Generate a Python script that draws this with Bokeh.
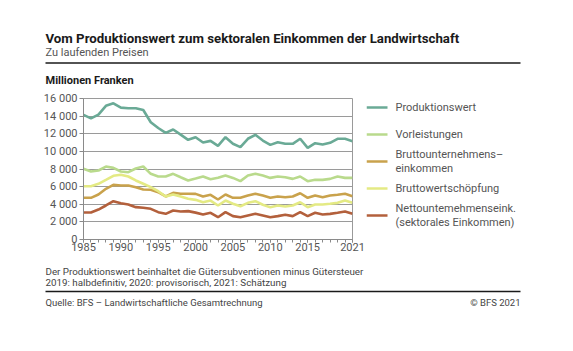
from bokeh.plotting import figure
from bokeh.models import Range1d, FixedTicker, Label
from bokeh.layouts import column, row
from bokeh.embed import file_html
from bokeh.resources import INLINE

years = list(range(1985, 2022))
produktionswert = [14150, 13750, 14170, 15170, 15450, 14960, 14900, 14900, 14700, 13310, 12650, 12100, 12480, 11900, 11310,
                   11610, 11000, 11190, 10620, 11610, 10860, 10480, 11430, 11880, 11230, 10740, 11040, 10860, 10860, 11430,
                   10400, 10930, 10780, 10970, 11430, 11430, 11160]
vorleistungen = [8020, 7720, 7830, 8280, 8130, 7720, 7640, 8060, 8280, 7450, 7150, 7150, 7450, 7070, 6700,
                 6920, 7150, 6840, 7000, 7260, 6990, 6620, 7260, 7450, 7260, 6990, 7150, 7070, 6880, 7150,
                 6620, 6770, 6770, 6880, 7150, 6990, 6990]
bruttounternehmenseinkommen = [4730, 4730, 5110, 5750, 6200, 6130, 6130, 5940, 5670, 5640, 5370, 4880, 5300, 5190, 5190,
                               5180, 4880, 5070, 4540, 5110, 4730, 4730, 4990, 5190, 4990, 4730, 4880, 4800, 4880, 5250,
                               4730, 4990, 4800, 4990, 5070, 5190, 4920]
bruttowertschoepfung = [6050, 6050, 6320, 6770, 7230, 7340, 7150, 6700, 6320, 5940, 5480, 4880, 5110, 4880, 4620,
                        4500, 4230, 4420, 3860, 4420, 4050, 3780, 4160, 4350, 3940, 3670, 3860, 3750, 3860, 4230,
                        3670, 3970, 3970, 4050, 4160, 4420, 4160]
nettounternehmenseinkommen = [3060, 3060, 3400, 3860, 4350, 4120, 3970, 3670, 3600, 3480, 3100, 2910, 3290, 3180, 3220,
                              3050, 2840, 3030, 2530, 3100, 2650, 2530, 2720, 2910, 2720, 2530, 2650, 2800, 2650, 3100,
                              2650, 3030, 2840, 2910, 3030, 3180, 2910]

series_names = ["Produktionswert", "Vorleistungen", "Bruttounternehmens–\neinkommen",
                "Bruttowertschöpfung", "Nettountemehmenseink.\n(sektorales Einkommen)"]
series_values = [produktionswert, vorleistungen, bruttounternehmenseinkommen,
                 bruttowertschoepfung, nettounternehmenseinkommen]
colors = ["#6aaa96", "#b9da8c", "#c9a24c", "#e4ea84", "#b3603c"]

x_ticks = [1985, 1990, 1995, 2000, 2005, 2010, 2015, 2021]
y_ticks = [0, 2000, 4000, 6000, 8000, 10000, 12000, 14000, 16000]
y_tick_labels = ["0", "2 000", "4 000", "6 000", "8 000", "10 000", "12 000", "14 000", "16 000"]

title = "Vom Produktionswert zum sektoralen Einkommen der Landwirtschaft"
subtitle = "Zu laufenden Preisen"
unit = "Millionen Franken"
notes = ["Der Produktionswert beinhaltet die Gütersubventionen minus Gütersteuer",
         "2019: halbdefinitiv, 2020: provisorisch, 2021: Schätzung"]
source = "Quelle: BFS – Landwirtschaftliche Gesamtrechnung"
copyright_text = "© BFS 2021"

W, H = 573, 351
FL, FR, FT, FB = 83, 352, 98, 239      # plot frame edges (page pixels)
TOP_H = 90                              # header band height
MID_B = 262                             # bottom of chart band
CHART_W = 366                           # chart band width
FONT = "Roboto"


def band(x0, x1, y0, y1, fy0=None, fy1=None):
    """A figure in page-pixel coordinates; its frame spans fy0..fy1 vertically."""
    fy0 = y0 if fy0 is None else fy0
    fy1 = y1 if fy1 is None else fy1
    f = figure(width=x1 - x0, height=y1 - y0, output_backend="svg", toolbar_location=None,
               x_range=Range1d(x0, x1), y_range=Range1d(fy1, fy0),
               x_axis_type=None, y_axis_type=None, min_border=0,
               min_border_top=fy0 - y0, min_border_bottom=y1 - fy1,
               background_fill_color="white", border_fill_color="white")
    f.outline_line_color = None
    f.grid.grid_line_color = None
    return f


def add_text(f, txt, x, y, size, color="#333333", bold=False, align="left"):
    f.add_layout(Label(x=x, y=y, text=txt, text_font=FONT, text_font_size=size, text_color=color,
                       text_font_style="bold" if bold else "normal",
                       text_align=align, text_baseline="middle"))


# ---- header
head = band(0, W, 0, TOP_H)
add_text(head, title, 45, 38, "13.25px", "#1a1a1a", bold=True)
add_text(head, subtitle, 45, 52, "11px", "#555555")
head.segment(x0=[45], y0=[62.5], x1=[520], y1=[62.5], line_color="#1a1a1a", line_width=1.3)
add_text(head, unit, 45, 80, "11px", "#1a1a1a", bold=True)

# ---- chart
p = figure(width=CHART_W, height=MID_B - TOP_H, output_backend="svg", toolbar_location=None,
           x_range=Range1d(1985, 2021), y_range=Range1d(0, 16000),
           min_border_left=FL, min_border_right=CHART_W - FR,
           min_border_top=FT - TOP_H, min_border_bottom=MID_B - FB,
           background_fill_color="white", border_fill_color="white")
p.outline_line_color = "#9a9a9a"
p.outline_line_width = 1
p.xgrid.grid_line_color = None
p.ygrid.grid_line_color = "#9a9a9a"
p.ygrid.grid_line_width = 1
p.ygrid.ticker = FixedTicker(ticks=y_ticks)
p.xaxis.ticker = FixedTicker(ticks=x_ticks, minor_ticks=years)
p.yaxis.ticker = FixedTicker(ticks=y_ticks)
p.yaxis.major_label_overrides = {t: l for t, l in zip(y_ticks, y_tick_labels)}
for ax in (p.xaxis, p.yaxis):
    ax.axis_line_color = "#8a8a8a"
    ax.major_tick_line_color = "#8a8a8a"
    ax.minor_tick_line_color = "#8a8a8a"
    ax.major_tick_in = 0
    ax.major_tick_out = 4
    ax.minor_tick_in = 0
    ax.minor_tick_out = 3
    ax.major_label_text_font = FONT
    ax.major_label_text_font_size = "11px"
    ax.major_label_text_color = "#555555"
p.yaxis.minor_tick_line_color = None
p.yaxis.major_label_standoff = 2
p.xaxis.major_tick_out = 3
p.xaxis.major_label_standoff = 0

for vals, col in zip(series_values, colors):
    p.line(years, vals, line_color=col, line_width=2.6)

# ---- legend band (frame aligned with chart frame)
leg = band(CHART_W, W, TOP_H, MID_B, FT, FB)
legend_y = [107, 134, 161, 188, 215]
leg.segment(x0=[CHART_W] * 5, y0=legend_y, x1=[387] * 5, y1=legend_y, line_color=colors, line_width=2.6)
for name, ly in zip(series_names, legend_y):
    lines = name.split("\n")
    n = len(lines)
    for i, ln in enumerate(lines):
        add_text(leg, ln, 395, ly + (i - (n - 1) / 2) * 13.5, "11px", "#555555")

# ---- footer
foot = band(0, W, MID_B, H)
add_text(foot, notes[0], 45, 271, "9.8px", "#444444")
add_text(foot, notes[1], 45, 282, "9.8px", "#444444")
foot.segment(x0=[45], y0=[291], x1=[520], y1=[291], line_color="#1a1a1a", line_width=1.3)
add_text(foot, source, 45, 302, "9.5px", "#444444")
add_text(foot, copyright_text, 520, 302, "9.5px", "#444444", align="right")

layout = column(head, row(p, leg), foot)
open("out.html", "w").write(file_html(layout, INLINE))
